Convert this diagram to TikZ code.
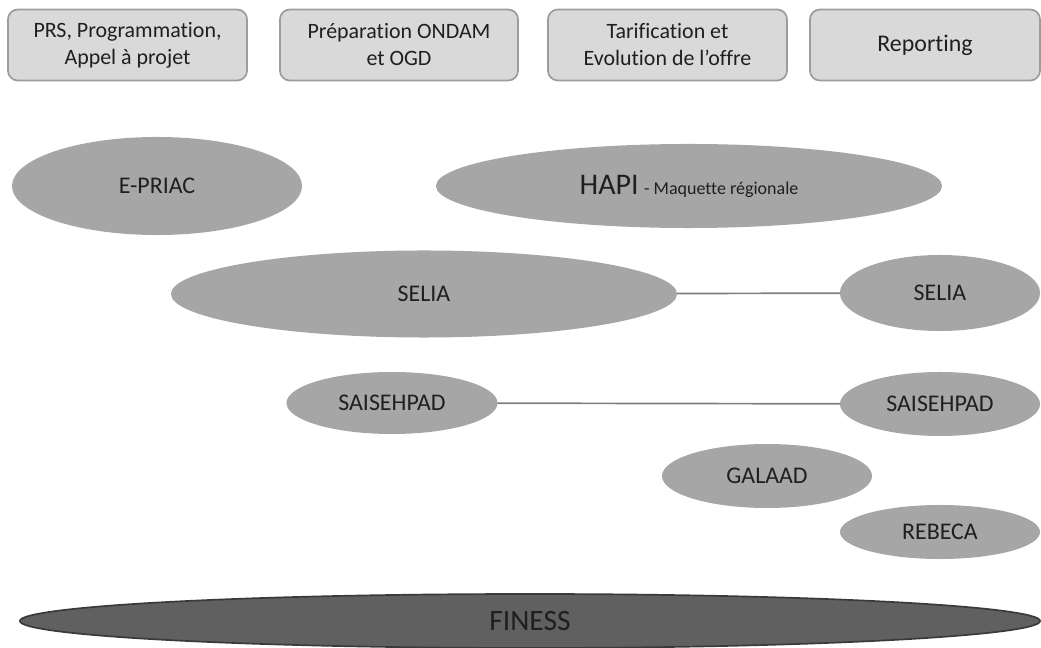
\documentclass[tikz,border=0pt]{standalone}
\usepackage{fontspec}
\setmainfont{Carlito}[Ligatures=NoCommon]
\usetikzlibrary{shapes.geometric}
\definecolor{boxfill}{HTML}{D9D9D9}
\definecolor{boxline}{HTML}{9C9C9C}
\definecolor{ovalfill}{HTML}{A6A6A6}
\definecolor{basefill}{HTML}{606060}
\definecolor{baseline}{HTML}{3A3A3A}
\definecolor{linkgray}{HTML}{7F7F7F}
\begin{document}
\begin{tikzpicture}[x=0.025cm, y=-0.025cm, line join=round, line cap=round]
\tikzset{every node/.style={text=black!88, inner sep=0pt},
  topbox/.style={draw=boxline, line width=1.2pt, fill=boxfill, rounded corners=7pt,
    minimum height=1.775cm, align=center, font=\fontsize{15.6}{19.2}\selectfont},
  oval/.style={ellipse, fill=ovalfill, font=\fontsize{17}{20}\selectfont},
  link/.style={draw=linkgray, line width=1.2pt}}
\useasboundingbox (0,0) rectangle (1041,648);
% headings
\node[topbox, minimum width=5.975cm] (prs) at (127.5,45) {PRS, Programmation,\\Appel à projet};
\node[topbox, minimum width=5.95cm] (ondam) at (399,45) {Préparation ONDAM\\et OGD};
\node[topbox, minimum width=5.975cm] (tarif) at (667.5,45) {Tarification et\\Evolution de l’offre};
\node[topbox, minimum width=5.75cm, font=\fontsize{17}{20}\selectfont] (report) at (925,45) {Reporting};
% applications
\node[oval, minimum width=7.25cm, minimum height=2.45cm] (epriac) at (157,186) {E-PRIAC};
\node[oval, minimum width=12.65cm, minimum height=2.1cm] (hapi) at (689,186)
  {{\fontsize{21.3}{24}\selectfont HAPI} {\fontsize{12.8}{15}\selectfont - Maquette régionale}};
\node[oval, minimum width=12.65cm, minimum height=2.175cm] (seliaA) at (424,294) {SELIA};
\node[oval, minimum width=5cm, minimum height=1.9cm] (seliaB) at (940,293) {SELIA};
\node[oval, minimum width=5.275cm, minimum height=1.55cm] (saisA) at (392,403) {SAISEHPAD};
\node[oval, minimum width=5cm, minimum height=1.6cm] (saisB) at (940,404) {SAISEHPAD};
\node[oval, minimum width=5.25cm, minimum height=1.6cm] (galaad) at (767,476) {GALAAD};
\node[oval, minimum width=5cm, minimum height=1.35cm] (rebeca) at (940,532) {REBECA};
\node[ellipse, draw=baseline, line width=1.2pt, fill=basefill, minimum width=25.5cm,
  minimum height=1.35cm, font=\fontsize{21}{24}\selectfont] (finess) at (530,621) {FINESS};
\draw[link] (seliaA) -- (seliaB);
\draw[link] (saisA) -- (saisB);
\end{tikzpicture}
\end{document}
